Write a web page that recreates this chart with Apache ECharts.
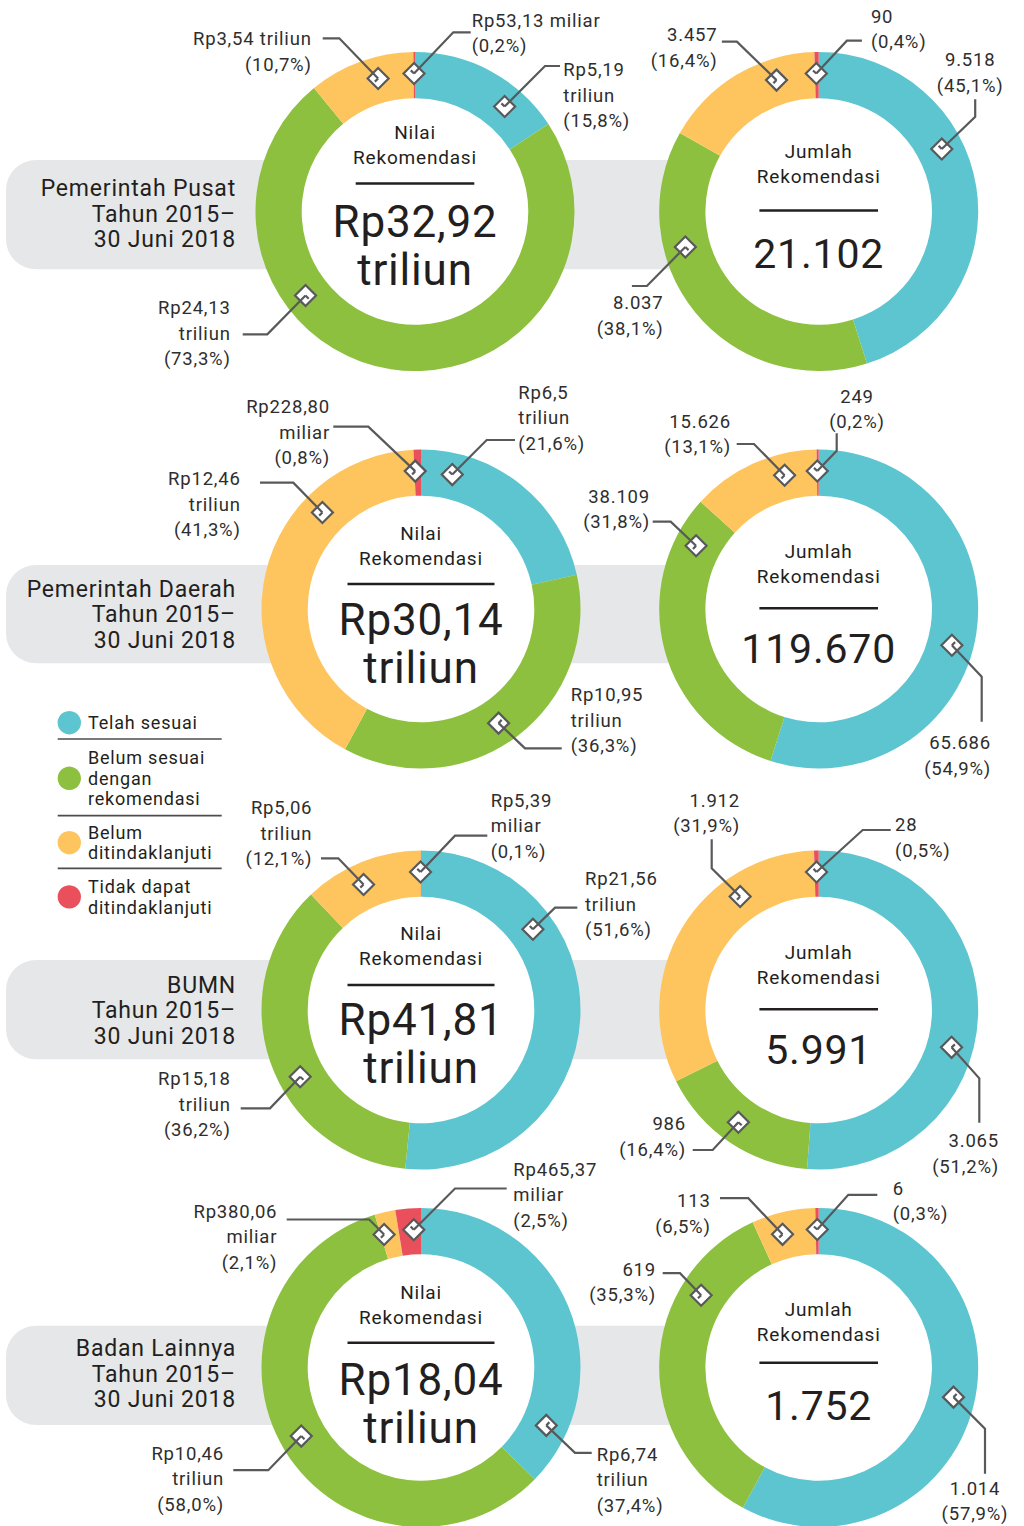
<!DOCTYPE html>
<html>
<head>
<meta charset="utf-8">
<title>Status Tindak Lanjut Rekomendasi 2015 – 30 Juni 2018</title>
<script src="https://cdn.jsdelivr.net/npm/echarts@6/dist/echarts.min.js"></script>
<style>
  html, body { margin: 0; padding: 0; background: #ffffff; }
  #chart { width: 1024px; height: 1526px; }
  /* the report typeface is generously tracked */
  #chart text { letter-spacing: 0.8px; }
</style>
</head>
<body>
<div id="chart"></div>
<script>
// ---------- data ----------
const categories = ['Telah sesuai', 'Belum sesuai dengan rekomendasi', 'Belum ditindaklanjuti', 'Tidak dapat ditindaklanjuti'];
const entities = ['Pemerintah Pusat', 'Pemerintah Daerah', 'BUMN', 'Badan Lainnya'];
const periodLines = ['Tahun 2015–', '30 Juni 2018'];

// Nilai rekomendasi per status (miliar rupiah)
const nilaiPusat   = [5190, 24130, 3540, 53.13];
const nilaiDaerah  = [6500, 10950, 12460, 228.80];
const nilaiBumn    = [21560, 15180, 5060, 5.39];
const nilaiLainnya = [6740, 10460, 380.06, 465.37];
// published shares of nilai (%)
const nilaiPctPusat   = [15.8, 73.3, 10.7, 0.2];
const nilaiPctDaerah  = [21.6, 36.3, 41.3, 0.8];
const nilaiPctBumn    = [51.6, 36.2, 12.1, 0.1];
const nilaiPctLainnya = [37.4, 58.0, 2.1, 2.5];
// published nilai totals (triliun rupiah)
const nilaiTotal = [32.92, 30.14, 41.81, 18.04];

// Jumlah rekomendasi per status
const jumlahPusat   = [9518, 8037, 3457, 90];
const jumlahDaerah  = [65686, 38109, 15626, 249];
const jumlahBumn    = [3065, 986, 1912, 28];
const jumlahLainnya = [1014, 619, 113, 6];
// published shares of jumlah (%)
const jumlahPctPusat   = [45.1, 38.1, 16.4, 0.4];
const jumlahPctDaerah  = [54.9, 31.8, 13.1, 0.2];
const jumlahPctBumn    = [51.2, 16.4, 31.9, 0.5];
const jumlahPctLainnya = [57.9, 35.3, 6.5, 0.3];

// ---------- styling ----------
const palette = ['#5DC5D0', '#8DC03E', '#FEC55F', '#E9505C'];
const INK = '#231F20';
const LABEL = '#2E2E2E';
const LEAD = '#58595B';
const BANNER = '#E6E7E8';
const FONT = 'Roboto, "Noto Sans", sans-serif';
const R_IN = 113.3, R_OUT = 159.5, R_MARK = 138;

// ---------- layout ----------
const rowY = [211.5, 609, 1010, 1367.5];
const nilaiX = [415, 421, 421, 421];
const jumlahX = 818.7;
const banners = [
  { top: 160, bottom: 269.3, textY: 188.3 },
  { top: 565, bottom: 663.3, textY: 589 },
  { top: 960, bottom: 1059.3, textY: 985 },
  { top: 1325.7, bottom: 1425, textY: 1348.3 }
];
const nilaiHead = [
  { title: -79, rule: -28, ruleHalf: 59.3, big: 10 },
  { title: -76, rule: -25, ruleHalf: 73.5, big: 11 },
  { title: -76.5, rule: -25, ruleHalf: 73.5, big: 10 },
  { title: -75.5, rule: -24.7, ruleHalf: 73.5, big: 12 }
];
const jumlahHead = [
  { title: -60, rule: -1, ruleHalf: 59.3, big: 42 },
  { title: -57.3, rule: -0.7, ruleHalf: 59.3, big: 39.5 },
  { title: -57.3, rule: -0.7, ruleHalf: 59.3, big: 40 },
  { title: -58.5, rule: -4.7, ruleHalf: 59.3, big: 38 }
];

// callout placement, relative to each donut centre:
// a = marker angle (deg, clockwise from 12 o'clock), e = elbow, t = leader end,
// l = label anchor (x, centre of first line), al = alignment, inline = amount and unit on one line
const calloutsNilai = [
  [
    { a: 40.5,  e: [130, -145.5],   t: [145, -145.5],   l: [148.3, -141.5], al: 'left' },
    { a: 232.5, e: [-147.7, 122.8], t: [-172.3, 122.8], l: [-184.3, 96.8],  al: 'right' },
    { a: 344.5, e: [-75.7, -173.2], t: [-92.3, -173.2], l: [-103.3, -172.2], al: 'right', inline: true },
    { a: 359.6, e: [38.3, -179.2],  t: [55.7, -179.2],  l: [56.7, -190.8],  al: 'left', inline: true }
  ],
  [
    { a: 13.1,  e: [65.7, -169],    t: [94, -169],      l: [97.3, -216.3],  al: 'left' },
    { a: 145.8, e: [104, 139.3],    t: [140.7, 139.3],  l: [149.7, 86],     al: 'left' },
    { a: 314.4, e: [-127.7, -126.3], t: [-161, -126.3], l: [-180.3, -129.7], al: 'right' },
    { a: 357.6, e: [-52.7, -182.3], t: [-87.7, -182.3], l: [-91, -201.7],   al: 'right' }
  ],
  [
    { a: 54.2,  e: [134, -102.3],   t: [156.3, -102.3], l: [164, -130.7],   al: 'left' },
    { a: 241.1, e: [-151, 98.3],    t: [-180.3, 98.3],  l: [-190.3, 69.3],  al: 'right' },
    { a: 335.4, e: [-82.7, -151.7], t: [-100, -151.7],  l: [-108.7, -201.7], al: 'right' },
    { a: 359.8, e: [34, -174.3],    t: [66.3, -174.3],  l: [69.7, -209.3],  al: 'left' }
  ],
  [
    { a: 114.8, e: [154, 85.3],     t: [170.7, 85.3],   l: [175.7, 87],     al: 'left' },
    { a: 240.2, e: [-152.7, 102.7], t: [-187.7, 102.7], l: [-197, 86.3],    al: 'right' },
    { a: 344.5, e: [-51.8, -148],   t: [-134.3, -148],  l: [-143.7, -155.7], al: 'right' },
    { a: 357,   e: [34, -179],      t: [85.7, -179],    l: [92.3, -198],    al: 'left' }
  ]
];
const calloutsJumlah = [
  [
    { a: 63.1,  e: [156.5, -94.8],  t: [156.5, -112.2], l: [151.5, -151.5], al: 'center' },
    { a: 255.1, e: [-171.8, 74.5],  t: [-186.8, 74.5],  l: [-155.2, 91.8],  al: 'right' },
    { a: 342.2, e: [-81.8, -169.8], t: [-96.8, -169.8], l: [-101.2, -176.5], al: 'right' },
    { a: 359,   e: [28.2, -170.8],  t: [43.2, -170.8],  l: [52.2, -194.8],  al: 'left' }
  ],
  [
    { a: 105.2, e: [163, 67.7],     t: [163, 112.7],    l: [172.3, 134.3],  al: 'right' },
    { a: 297.3, e: [-148, -87.3],   t: [-166, -87.3],   l: [-168.7, -112.3], al: 'right' },
    { a: 345.7, e: [-64.7, -165],   t: [-82, -165],     l: [-87.7, -187.3], al: 'right' },
    { a: 359.4, e: [18, -158.3],    t: [18, -175.7],    l: [38.3, -212.3],  al: 'center' }
  ],
  [
    { a: 105.7, e: [160.6, 68.3],   t: [160.6, 112.7],  l: [180.3, 131],    al: 'right' },
    { a: 215.6, e: [-106, 140],     t: [-126, 140],     l: [-132.7, 114.3], al: 'right' },
    { a: 325.3, e: [-107, -141.7],  t: [-107, -170.7],  l: [-78.7, -209.3], al: 'right' },
    { a: 359.1, e: [44, -180],      t: [72, -180],      l: [76.3, -185],    al: 'left' }
  ],
  [
    { a: 102.4, e: [166.3, 61.3],   t: [166.3, 106.3],  l: [156.3, 121.3],  al: 'center' },
    { a: 301.6, e: [-138.7, -94.3], t: [-156, -94.3],   l: [-162.7, -97.7], al: 'right' },
    { a: 344.8, e: [-70.4, -169.3], t: [-98.7, -169.3], l: [-108, -166.3],  al: 'right' },
    { a: 359.4, e: [29.6, -172.7],  t: [58.6, -172.7],  l: [74, -178.7],    al: 'left' }
  ]
];

const legendWrap = {
  'Belum sesuai dengan rekomendasi': 'Belum sesuai\ndengan\nrekomendasi',
  'Belum ditindaklanjuti': 'Belum\nditindaklanjuti',
  'Tidak dapat ditindaklanjuti': 'Tidak dapat\nditindaklanjuti'
};
const legendRules = [739, 815.7, 868.3];

// ---------- formatting ----------
function comma(v) { return String(v).replace('.', ','); }
function rupiahParts(v) { // v in miliar
  if (v >= 1000) return ['Rp' + comma(parseFloat((v / 1000).toFixed(2))), 'triliun'];
  return ['Rp' + v.toFixed(2).replace('.', ','), 'miliar'];
}
function thousands(v) { return String(v).replace(/\B(?=(\d{3})+(?!\d))/g, '.'); }
function pctText(p) { return '(' + p.toFixed(1).replace('.', ',') + '%)'; }

// ---------- panels ----------
const nilaiSets = [nilaiPusat, nilaiDaerah, nilaiBumn, nilaiLainnya];
const nilaiPcts = [nilaiPctPusat, nilaiPctDaerah, nilaiPctBumn, nilaiPctLainnya];
const jumlahSets = [jumlahPusat, jumlahDaerah, jumlahBumn, jumlahLainnya];
const jumlahPcts = [jumlahPctPusat, jumlahPctDaerah, jumlahPctBumn, jumlahPctLainnya];

const panels = [];
for (let r = 0; r < 4; r++) {
  panels.push({
    kind: 'nilai', cx: nilaiX[r], cy: rowY[r], values: nilaiSets[r], head: nilaiHead[r],
    callouts: calloutsNilai[r],
    title: 'Nilai\nRekomendasi',
    big: 'Rp' + nilaiTotal[r].toFixed(2).replace('.', ',') + '\ntriliun',
    bigSize: 44,
    labels: nilaiSets[r].map((v, i) => {
      const parts = rupiahParts(v);
      const inline = calloutsNilai[r][i].inline;
      return (inline ? parts.join(' ') : parts.join('\n')) + '\n' + pctText(nilaiPcts[r][i]);
    })
  });
  panels.push({
    kind: 'jumlah', cx: jumlahX, cy: rowY[r], values: jumlahSets[r], head: jumlahHead[r],
    callouts: calloutsJumlah[r],
    title: 'Jumlah\nRekomendasi',
    big: thousands(jumlahSets[r].reduce((s, v) => s + v, 0)),
    bigSize: 41,
    labels: jumlahSets[r].map((v, i) => thousands(v) + '\n' + pctText(jumlahPcts[r][i]))
  });
}

// ---------- graphic overlay ----------
const graphics = [];

banners.forEach((b, r) => {
  graphics.push({
    type: 'rect', z: 0, silent: true,
    shape: { x: 6, y: b.top, width: 830, height: b.bottom - b.top, r: [30, 0, 0, 30] },
    style: { fill: BANNER }
  });
  graphics.push({
    type: 'text', z: 1, silent: true,
    style: {
      text: [entities[r]].concat(periodLines).join('\n'),
      x: 236, y: b.textY - 12.9,
      align: 'right', verticalAlign: 'top', textAlign: 'right', textVerticalAlign: 'top',
      lineHeight: 25.8, fontSize: 23, fontFamily: FONT, fill: INK
    }
  });
});

panels.forEach(p => {
  // white hole of the donut, above the banner
  graphics.push({ type: 'circle', z: 1, silent: true, shape: { cx: p.cx, cy: p.cy, r: R_IN + 0.5 }, style: { fill: '#ffffff' } });

  // centre caption
  graphics.push({
    type: 'text', z: 10, silent: true,
    style: {
      text: p.title, x: p.cx, y: p.cy + p.head.title - 12.5,
      align: 'center', verticalAlign: 'top', textAlign: 'center', textVerticalAlign: 'top',
      lineHeight: 25, fontSize: 19, fontFamily: FONT, fill: INK
    }
  });
  graphics.push({
    type: 'line', z: 10, silent: true,
    shape: { x1: p.cx - p.head.ruleHalf, y1: p.cy + p.head.rule, x2: p.cx + p.head.ruleHalf, y2: p.cy + p.head.rule },
    style: { stroke: INK, lineWidth: 2.5 }
  });
  graphics.push({
    type: 'text', z: 10, silent: true,
    style: {
      text: p.big, x: p.cx, y: p.cy + p.head.big - 24,
      align: 'center', verticalAlign: 'top', textAlign: 'center', textVerticalAlign: 'top',
      lineHeight: 48, fontSize: p.bigSize, fontFamily: FONT, fill: INK
    }
  });

  // callouts: diamond marker on the ring, elbow leader, label
  p.callouts.forEach((c, i) => {
    const ang = c.a * Math.PI / 180;
    const mx = p.cx + R_MARK * Math.sin(ang);
    const my = p.cy - R_MARK * Math.cos(ang);
    const ex = p.cx + c.e[0], ey = p.cy + c.e[1];
    const tx = p.cx + c.t[0], ty = p.cy + c.t[1];
    const d = 10.5;
    graphics.push({
      type: 'polygon', z: 11, silent: true,
      shape: { points: [[mx, my - d], [mx + d, my], [mx, my + d], [mx - d, my]] },
      style: { fill: '#ffffff', stroke: LEAD, lineWidth: 2.2 }
    });
    graphics.push({
      type: 'polyline', z: 12, silent: true,
      shape: { points: [[mx, my], [ex, ey], [tx, ty]] },
      style: { stroke: LEAD, lineWidth: 2.2, fill: null }
    });
    const len = Math.hypot(ex - mx, ey - my) || 1;
    const ux = (ex - mx) / len, uy = (ey - my) / len;
    graphics.push({
      type: 'line', z: 12, silent: true,
      shape: { x1: mx, y1: my, x2: mx + uy * 4.5, y2: my - ux * 4.5 },
      style: { stroke: LEAD, lineWidth: 2.2 }
    });
    graphics.push({
      type: 'text', z: 12, silent: true,
      style: {
        text: p.labels[i], x: p.cx + c.l[0], y: p.cy + c.l[1] - 12.75,
        align: c.al, verticalAlign: 'top', textAlign: c.al, textVerticalAlign: 'top',
        lineHeight: 25.5, fontSize: 18.5, fontFamily: FONT, fill: LABEL
      }
    });
  });
});

// legend separators
legendRules.forEach(y => {
  graphics.push({
    type: 'line', z: 5, silent: true,
    shape: { x1: 57.7, y1: y, x2: 221.7, y2: y },
    style: { stroke: '#4D4D4F', lineWidth: 1.7 }
  });
});

// ---------- series ----------
const series = panels.map(p => ({
  type: 'pie',
  z: 2,
  center: [p.cx, p.cy],
  radius: [R_IN, R_OUT],
  startAngle: 90,
  clockwise: true,
  silent: true,
  animation: false,
  label: { show: false },
  labelLine: { show: false },
  emphasis: { disabled: true },
  itemStyle: { borderWidth: 0 },
  data: categories.map((name, i) => ({ name: name, value: p.values[i] }))
}));

const chart = echarts.init(document.getElementById('chart'), null, { renderer: 'svg', width: 1024, height: 1526 });
chart.setOption({
  backgroundColor: '#ffffff',
  animation: false,
  color: palette,
  legend: {
    orient: 'vertical',
    left: 57.6,
    top: 711,
    padding: 0,
    itemGap: 13.15,
    itemWidth: 23.4,
    itemHeight: 23.4,
    icon: 'circle',
    selectedMode: false,
    data: categories,
    formatter: name => legendWrap[name] || name,
    textStyle: { fontSize: 18, lineHeight: 20.5, color: INK, fontFamily: FONT, padding: [0, 0, 0, 2] }
  },
  graphic: { elements: graphics },
  series: series
});
</script>
</body>
</html>
